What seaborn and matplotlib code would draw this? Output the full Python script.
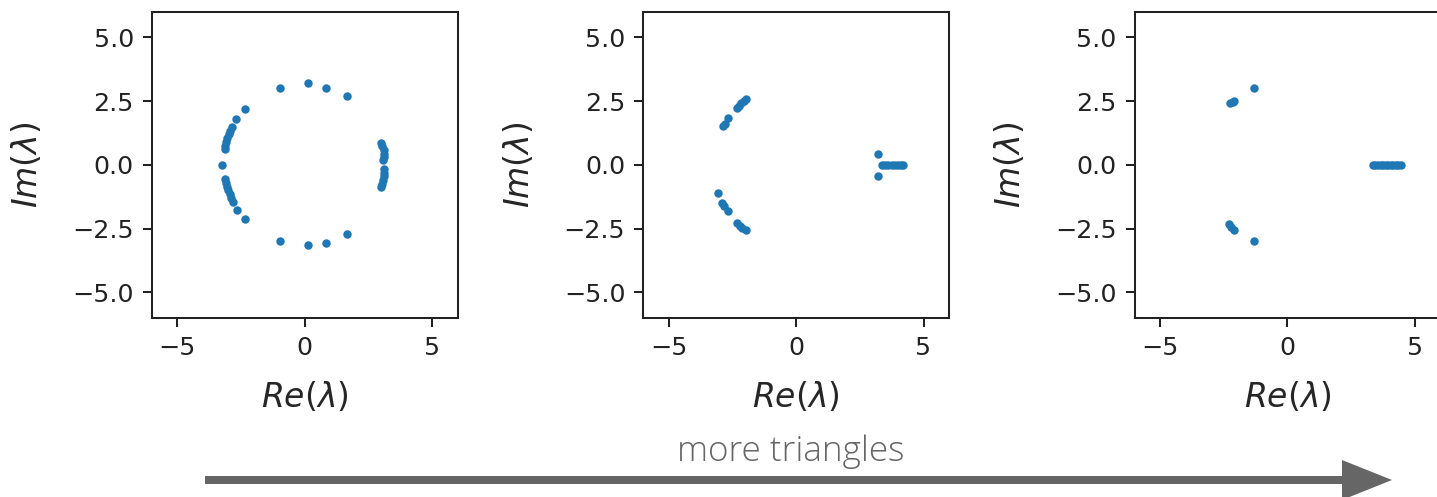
import numpy as np
import matplotlib
matplotlib.use("Agg")
import matplotlib.pyplot as plt
import seaborn as sns
from matplotlib.patches import FancyArrow

sns.set_style("ticks")
plt.rcParams["font.family"] = ["DejaVu Sans"]

# Eigenvalue spectra (real part, imaginary part) for three graphs
re_1 = [-0.95, 0.14, 0.85, 1.66,
        -0.95, 0.14, 0.85, 1.66,
        -2.35, -2.68, -2.85, -2.92, -2.98, -3.03, -3.08, -3.12, -3.14,
        -3.23,
        -3.14, -3.10, -3.06, -3.00, -2.95, -2.88, -2.80, -2.65, -2.35,
        2.98, 3.05, 3.10, 3.12, 3.10, 3.08,
        3.12, 3.12, 3.10, 3.08, 3.05, 2.98]
im_1 = [3.03, 3.20, 3.03, 2.72,
        -3.00, -3.15, -3.07, -2.69,
        2.18, 1.79, 1.50, 1.35, 1.20, 1.05, 0.90, 0.75, 0.62,
        0.00,
        -0.55, -0.70, -0.85, -1.00, -1.15, -1.30, -1.45, -1.78, -2.10,
        0.85, 0.75, 0.60, 0.45, 0.30, 0.20,
        -0.15, -0.30, -0.45, -0.60, -0.75, -0.85]

re_2 = [-2.85, -2.80, -2.65, -2.33, -2.25, -2.15, -2.05, -1.96,
        -3.05, -2.90, -2.82, -2.65, -2.33, -2.20, -2.10, -1.96,
        3.23, 3.23,
        3.36, 3.50, 3.62, 3.75, 3.88, 4.00, 4.10, 4.20]
im_2 = [1.53, 1.60, 1.86, 2.25, 2.33, 2.42, 2.50, 2.58,
        -1.11, -1.50, -1.60, -1.82, -2.28, -2.38, -2.47, -2.56,
        0.44, -0.42,
        0.0, 0.0, 0.0, 0.0, 0.0, 0.0, 0.0, 0.0]

re_3 = [-1.32, -2.25, -2.15, -2.08,
        -1.32, -2.30, -2.20, -2.10,
        3.35, 3.45, 3.55, 3.65, 3.75, 3.85, 3.95, 4.05, 4.15, 4.25, 4.35, 4.45]
im_3 = [3.02, 2.42, 2.48, 2.52,
        -3.00, -2.33, -2.45, -2.55,
        0.0, 0.0, 0.0, 0.0, 0.0, 0.0, 0.0, 0.0, 0.0, 0.0, 0.0, 0.0]

spectra = [(re_1, im_1), (re_2, im_2), (re_3, im_3)]

x_ticks = [-5, 0, 5]
y_ticks = [-5.0, -2.5, 0.0, 2.5, 5.0]
arrow_label = "more triangles"

dpi = 183
fig = plt.figure(figsize=(1437 / dpi, 497 / dpi), dpi=dpi)

lefts = [0.1056, 0.4475, 0.7895]
for left, (re, im) in zip(lefts, spectra):
    ax = fig.add_axes([left, 0.3602, 0.2129, 0.6157])
    sns.scatterplot(x=re, y=im, ax=ax, s=11, linewidth=0, color="#1f77b4")
    ax.set_xlim(-6, 6)
    ax.set_ylim(-6, 6)
    ax.set_xticks(x_ticks)
    ax.set_yticks(y_ticks)
    ax.set_yticklabels([f"{v:.1f}".replace("-", "\u2212") for v in y_ticks])
    ax.tick_params(labelsize=10, length=3.5, width=0.8, colors="#222222")
    ax.set_xlabel(r"$Re(\lambda)$", fontsize=13, labelpad=8)
    ax.set_ylabel(r"$Im(\lambda)$", fontsize=13, labelpad=11)
    for sp in ax.spines.values():
        sp.set_linewidth(0.8)
        sp.set_color("#222222")

# Progression arrow with caption underneath the panels
W, H = 1437, 497
arrow = FancyArrow(205 / W, 1 - 480 / H, (1392 - 205) / W, 0,
                   width=8 / H, head_width=40 / H, head_length=50 / W,
                   length_includes_head=True, color="#666666",
                   transform=fig.transFigure, linewidth=0)
fig.patches.append(arrow)
fig.text(791 / W, 1 - 452 / H, arrow_label, ha="center", va="center",
         fontsize=13.8, color="#666666", family=["Open Sans", "DejaVu Sans"],
         fontweight="light")

fig.savefig("out.png", dpi=dpi)
